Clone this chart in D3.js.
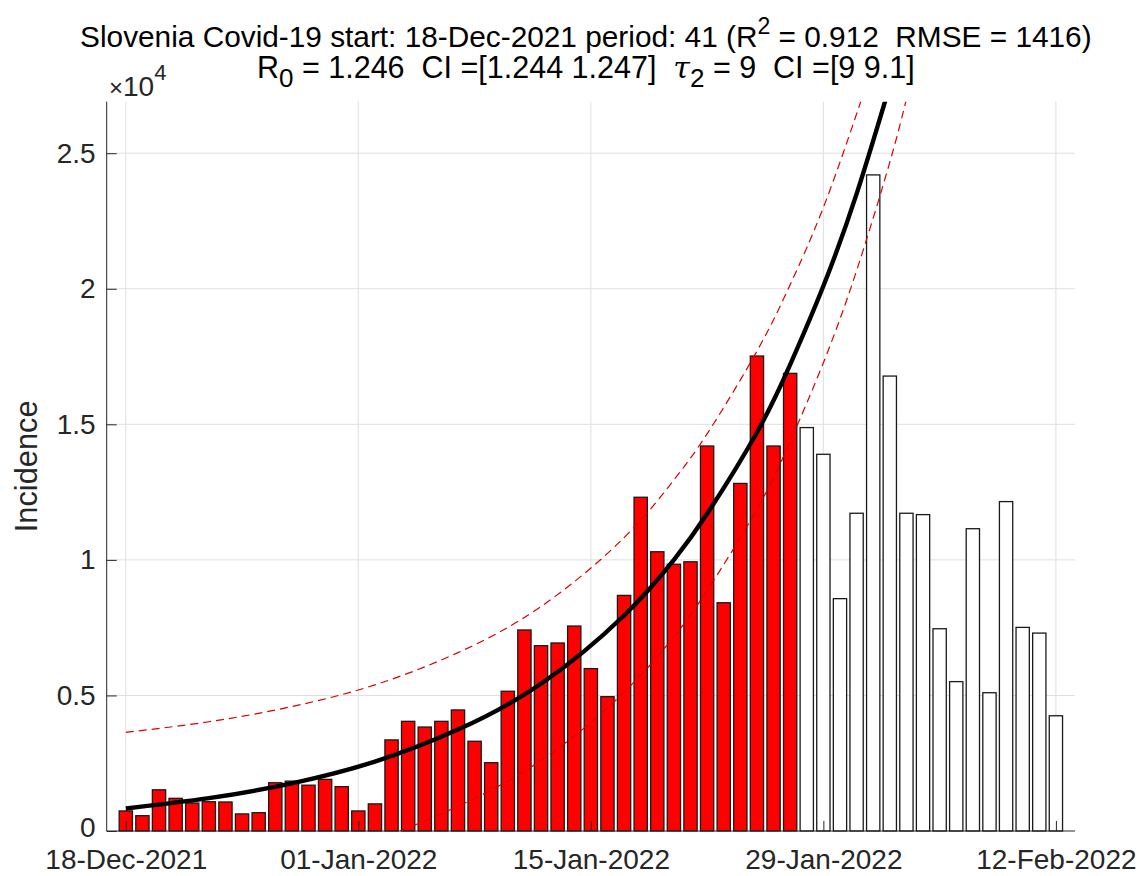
<!DOCTYPE html>
<html>
<head>
<meta charset="utf-8">
<script src="https://cdn.jsdelivr.net/npm/d3@7"></script>
<style>
  html, body { margin: 0; padding: 0; background: #fff; }
  svg { display: block; }
  text { font-family: "Liberation Sans", Arial, Helvetica, sans-serif; white-space: pre; }
</style>
</head>
<body>
<svg id="chart" width="1143" height="876"></svg>
<script>
// ---------------- DATA ----------------
const startDate = "2021-12-18";
// daily incidence used for the fit (41 days, red)
const fittedCases = [740, 565, 1520, 1205, 1030, 1080, 1070, 630, 675, 1780,
  1840, 1690, 1905, 1635, 740, 1000, 3360, 4045, 3835, 4045,
  4465, 3310, 2520, 5155, 7415, 6835, 6935, 7560, 5990, 4955,
  8690, 12310, 10300, 9840, 9930, 14200, 8420, 12820, 17520, 14200, 16880];
// later daily incidence (16 days, white)
const laterCases = [14880, 13895, 8570, 11720, 24200, 16780, 11720, 11670,
  7460, 5510, 11150, 5100, 12150, 7510, 7300, 4250];
// fitted curve (day offset from start, value)
const fitDays = [0, 5, 10, 15, 20, 25, 30, 33, 35, 38, 40, 42, 44, 46];
const fitValues = [830, 1210, 1760, 2560, 3740, 5430, 7950, 10000, 11700, 14700, 17200, 20100, 23500, 27500];
// upper and lower confidence bounds (dashed red)
const upperDays = [0, 5, 10, 15, 20, 25, 30, 33, 35, 38, 40, 42, 44, 45];
const upperValues = [3640, 4030, 4590, 5390, 6580, 8280, 10820, 12950, 14650, 17700, 20150, 23000, 26450, 28300];
const lowerDays = [16.5, 20, 25, 30, 33, 35, 38, 40, 42, 44, 46, 47];
const lowerValues = [0, 910, 2600, 5120, 7170, 8870, 11870, 14370, 17270, 20670, 24670, 27000];
// axis ticks
const xTickDates = ["2021-12-18", "2022-01-01", "2022-01-15", "2022-01-29", "2022-02-12"];
const xTickLabels = ["18-Dec-2021", "01-Jan-2022", "15-Jan-2022", "29-Jan-2022", "12-Feb-2022"];
const yTickValues = [0, 5000, 10000, 15000, 20000, 25000];
const yTickLabels = ["0", "0.5", "1", "1.5", "2", "2.5"];

// ---------------- LAYOUT ----------------
const svg = d3.select("#chart");
const L = 106.7, R = 1075, T = 101.7, B = 831;
const parse = d3.utcParse("%Y-%m-%d");
const t0 = parse(startDate);
const dayMs = 86400000;
const axisColor = "#262626";

const x = d3.scaleUtc()
  .domain([new Date(+t0 - 1.15 * dayMs), new Date(+t0 + 57.15 * dayMs)])
  .range([L, R]);
const y = d3.scaleLinear().domain([0, 26900]).range([B, T]);
const dayToDate = d => new Date(+t0 + d * dayMs);
const barW = x(dayToDate(0.8)) - x(dayToDate(0));

svg.append("rect").attr("width", 1143).attr("height", 876).attr("fill", "#fff");

svg.append("clipPath").attr("id", "plotclip")
  .append("rect").attr("x", L).attr("y", T).attr("width", R - L).attr("height", B - T);

// grid
const grid = svg.append("g");
grid.selectAll("line.gx").data(xTickDates).join("line")
  .attr("x1", d => x(parse(d))).attr("x2", d => x(parse(d)))
  .attr("y1", T).attr("y2", B)
  .attr("stroke", "#dfdfdf").attr("stroke-width", 1);
grid.selectAll("line.gy").data(yTickValues.filter(v => v > 0)).join("line")
  .attr("x1", L).attr("x2", R)
  .attr("y1", d => y(d)).attr("y2", d => y(d))
  .attr("stroke", "#dfdfdf").attr("stroke-width", 1);

// bars
const bars = [
  ...fittedCases.map((v, i) => ({ day: i, v, fitted: true })),
  ...laterCases.map((v, i) => ({ day: fittedCases.length + i, v, fitted: false }))
];
svg.append("g").selectAll("rect").data(bars).join("rect")
  .attr("x", d => x(dayToDate(d.day)) - barW / 2)
  .attr("width", barW)
  .attr("y", d => y(d.v))
  .attr("height", d => y(0) - y(d.v))
  .attr("fill", d => d.fitted ? "#ff0000" : "#ffffff")
  .attr("stroke", "#1a1a1a")
  .attr("stroke-width", 1.3);

// curves
const line = d3.line()
  .x(d => x(dayToDate(d[0])))
  .y(d => y(d[1]))
  .curve(d3.curveNatural);
const curves = svg.append("g").attr("clip-path", "url(#plotclip)");
curves.append("path")
  .attr("d", line(upperDays.map((d, i) => [d, upperValues[i]])))
  .attr("fill", "none").attr("stroke", "#d80000").attr("stroke-width", 1.2)
  .attr("stroke-dasharray", "8,5");
curves.append("path")
  .attr("d", line(lowerDays.map((d, i) => [d, lowerValues[i]])))
  .attr("fill", "none").attr("stroke", "#d80000").attr("stroke-width", 1.2)
  .attr("stroke-dasharray", "8,5");
curves.append("path")
  .attr("d", line(fitDays.map((d, i) => [d, fitValues[i]])))
  .attr("fill", "none").attr("stroke", "#000").attr("stroke-width", 4.4)
  .attr("stroke-linejoin", "round");

// axes
const yAxis = d3.axisLeft(y).tickValues(yTickValues)
  .tickFormat((d, i) => yTickLabels[i]).tickSize(-10).tickPadding(11);
const gy = svg.append("g").attr("transform", `translate(${L},0)`).call(yAxis);
gy.select(".domain").attr("d", `M0,${T}V${B}`).attr("stroke", axisColor);
gy.selectAll(".tick line").attr("stroke", axisColor);
gy.selectAll(".tick text").attr("fill", axisColor).attr("font-size", 28)
  .attr("font-family", "Liberation Sans, Arial, sans-serif");
gy.selectAll(".tick text").filter((d, i) => i === 0).attr("y", -3);

const xAxis = d3.axisBottom(x).tickValues(xTickDates.map(parse))
  .tickFormat((d, i) => xTickLabels[i]).tickSize(-10).tickPadding(18);
const gx = svg.append("g").attr("transform", `translate(0,${B})`).call(xAxis);
gx.select(".domain").attr("d", `M${L},0H${R}`).attr("stroke", axisColor);
gx.selectAll(".tick line").attr("stroke", axisColor);
gx.selectAll(".tick text").attr("fill", axisColor).attr("font-size", 28)
  .attr("font-family", "Liberation Sans, Arial, sans-serif");

// exponent label
const ex = svg.append("text").attr("x", 109).attr("y", 96)
  .attr("font-size", 28).attr("fill", axisColor);
ex.append("tspan").attr("font-size", 24).text("×");
ex.append("tspan").text("10");
ex.append("tspan").attr("dy", -16).attr("font-size", 22).text("4");

// y label
svg.append("text")
  .attr("transform", `translate(37,${(T + B) / 2}) rotate(-90)`)
  .attr("text-anchor", "middle").attr("font-size", 30.8).attr("fill", axisColor)
  .text("Incidence");

// title
const cx = (L + R) / 2 - 5;
const t1 = svg.append("text").attr("x", cx).attr("y", 47)
  .attr("text-anchor", "middle").attr("font-size", 29.8).attr("fill", "#000");
t1.append("tspan").text("Slovenia Covid-19 start: 18-Dec-2021 period: 41 (R");
t1.append("tspan").attr("dy", -13).attr("font-size", 23).text("2");
t1.append("tspan").attr("dy", 13).text(" = 0.912  RMSE = 1416)");

const t2 = svg.append("text").attr("x", cx).attr("y", 78)
  .attr("text-anchor", "middle").attr("font-size", 30.5).attr("fill", "#000");
t2.append("tspan").text("R");
t2.append("tspan").attr("dy", 9).attr("font-size", 26).text("0");
t2.append("tspan").attr("dy", -9).text(" = 1.246  CI =[1.244 1.247]  ");
t2.append("tspan").attr("font-style", "italic").attr("font-family", "DejaVu Serif, serif").attr("font-size", 30).text("τ");
t2.append("tspan").attr("dy", 9).attr("font-size", 26).text("2");
t2.append("tspan").attr("dy", -9).text(" = 9  CI =[9 9.1]");
</script>
</body>
</html>
